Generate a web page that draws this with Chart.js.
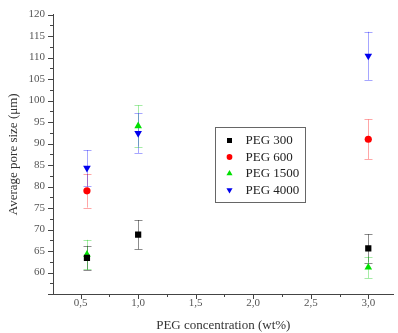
<!DOCTYPE html>
<html>
<head>
<meta charset="utf-8">
<script src="https://cdn.jsdelivr.net/npm/chart.js@4/dist/chart.umd.min.js"></script>
<style>
  html, body { margin: 0; padding: 0; background: #fff; }
  #wrap { width: 398px; height: 333px; position: relative; }
</style>
</head>
<body>
<div id="wrap"><canvas id="c"></canvas></div>
<script>
// data
const concX    = [0.555, 1.0, 3.0];
const seriesNames = ['PEG 300', 'PEG 600', 'PEG 1500', 'PEG 4000'];
const peg300   = [63.4, 68.8, 65.6];
const peg300E  = [2.8, 3.4, 3.3];
const peg600   = [79.0, null, 91.0];
const peg600E  = [3.9, null, 4.6];
const peg1500  = [64.2, 94.1, 61.2];
const peg1500E = [3.4, 4.8, 2.5];
const peg4000  = [84.3, 92.4, 110.4];
const peg4000E = [4.2, 4.6, 5.6];

const FONT = '"Liberation Serif", "DejaVu Serif", serif';

function pts(vals, errs) {
  const out = [];
  vals.forEach((v, i) => {
    if (v === null) return;
    out.push({ x: concX[i], y: v, e: errs[i] });
  });
  return out;
}

const confs = [
  { vals: peg300,  errs: peg300E,  color: '#000000', bar: 'rgba(0,0,0,0.45)',   style: 'rect',     r: 4.4, rot: 0 },
  { vals: peg600,  errs: peg600E,  color: '#ff0000', bar: 'rgba(255,0,0,0.35)', style: 'circle',   r: 3.6, rot: 0 },
  { vals: peg1500, errs: peg1500E, color: '#00e000', bar: 'rgba(0,200,0,0.35)', style: 'triangle', r: 4.4, rot: 0 },
  { vals: peg4000, errs: peg4000E, color: '#0000ee', bar: 'rgba(0,0,255,0.35)', style: 'triangle', r: 4.4, rot: 180 }
];

const datasets = confs.map((c, i) => ({
  label: seriesNames[i],
  data: pts(c.vals, c.errs),
  backgroundColor: c.color,
  borderColor: c.color,
  borderWidth: 0,
  pointStyle: c.style,
  pointRadius: c.r,
  pointRotation: c.rot,
  errColor: c.bar
}));

// error bars, drawn under the markers
const errorBars = {
  id: 'errorBars',
  beforeDatasetsDraw(chart) {
    const { ctx, scales: { x, y } } = chart;
    ctx.save();
    ctx.lineWidth = 1;
    chart.data.datasets.forEach(ds => {
      ctx.strokeStyle = ds.errColor;
      ds.data.forEach(p => {
        const px = Math.round(x.getPixelForValue(p.x)) + 0.5;
        const top = y.getPixelForValue(p.y + p.e);
        const bot = Math.min(y.getPixelForValue(p.y - p.e), chart.chartArea.bottom);
        ctx.beginPath();
        ctx.moveTo(px, top); ctx.lineTo(px, bot);
        ctx.moveTo(px - 4, Math.round(top) + 0.5); ctx.lineTo(px + 4, Math.round(top) + 0.5);
        if (bot < chart.chartArea.bottom) {
          ctx.moveTo(px - 4, Math.round(bot) + 0.5); ctx.lineTo(px + 4, Math.round(bot) + 0.5);
        }
        ctx.stroke();
      });
    });
    ctx.restore();
  }
};

// outward ticks, major with labels, minor halfway
const axisTicks = {
  id: 'axisTicks',
  afterDraw(chart) {
    const { ctx, scales: { x, y } } = chart;
    ctx.save();
    ctx.strokeStyle = '#444';
    ctx.lineWidth = 1;
    ctx.beginPath();
    for (let v = 0.25; v <= x.max + 1e-6; v += 0.25) {
      if (v < x.min - 1e-6) continue;
      const px = Math.round(x.getPixelForValue(v)) + 0.5;
      const major = Math.abs(v * 2 - Math.round(v * 2)) < 1e-6;
      ctx.moveTo(px, y.bottom);
      ctx.lineTo(px, y.bottom + (major ? 5 : 3));
    }
    for (let v = 55; v <= 120 + 1e-6; v += 2.5) {
      const py = Math.round(y.getPixelForValue(v)) + 0.5;
      const major = v % 5 === 0;
      ctx.moveTo(x.left, py);
      ctx.lineTo(x.left - (major ? 5 : 3), py);
    }
    ctx.stroke();
    ctx.restore();
  }
};

// boxed legend inside the plot
const boxLegend = {
  id: 'boxLegend',
  afterDraw(chart) {
    const { ctx } = chart;
    const bx = 215.5, by = 127.5, bw = 90, bh = 75;
    ctx.save();
    ctx.fillStyle = '#fff';
    ctx.fillRect(bx, by, bw, bh);
    ctx.strokeStyle = '#666';
    ctx.lineWidth = 1;
    ctx.strokeRect(bx, by, bw, bh);
    ctx.font = '13px ' + FONT;
    ctx.textBaseline = 'middle';
    chart.data.datasets.forEach((ds, i) => {
      const cy = by + 13 + i * 16.5;
      ctx.fillStyle = ds.backgroundColor;
      Chart.helpers.drawPoint(ctx, {
        pointStyle: ds.pointStyle,
        radius: ds.pointRadius * 0.8,
        rotation: ds.pointRotation,
        borderWidth: 0
      }, bx + 14, cy);
      ctx.fillStyle = '#222';
      ctx.fillText(seriesNames[i], bx + 30, cy + 0.5);
    });
    ctx.restore();
  }
};

new Chart(document.getElementById('c'), {
  type: 'scatter',
  data: { datasets },
  plugins: [errorBars, axisTicks, boxLegend],
  options: {
    responsive: true,
    maintainAspectRatio: false,
    animation: false,
    layout: { padding: { top: 12, right: 0, left: 0, bottom: 0 } },
    plugins: { legend: { display: false }, tooltip: { enabled: false } },
    scales: {
      x: {
        type: 'linear',
        min: 0.26,
        max: 3.22,
        afterFit: s => { s.height = 39; },
        afterBuildTicks: s => {
          s.ticks = [0.5, 1.0, 1.5, 2.0, 2.5, 3.0].map(v => ({ value: v }));
        },
        grid: { display: false, drawTicks: false },
        border: { display: true, color: '#444', width: 1 },
        ticks: {
          padding: 3,
          color: '#555',
          font: { family: FONT, size: 11 },
          maxRotation: 0,
          callback: v => v.toFixed(1).replace('.', ',')
        },
        title: {
          display: true,
          text: 'PEG concentration (wt%)',
          color: '#333',
          font: { family: FONT, size: 13 },
          padding: { top: 2, bottom: 0 }
        }
      },
      y: {
        type: 'linear',
        min: 55,
        max: 120,
        afterFit: s => { s.width = 53; },
        afterBuildTicks: s => {
          const t = [];
          for (let v = 60; v <= 120; v += 5) t.push({ value: v });
          s.ticks = t;
        },
        grid: { display: false, drawTicks: false },
        border: { display: true, color: '#444', width: 1 },
        ticks: {
          padding: 8,
          color: '#555',
          font: { family: FONT, size: 11 },
          callback: v => String(v)
        },
        title: {
          display: true,
          text: 'Average pore size (\u03bcm)',
          color: '#333',
          font: { family: FONT, size: 13 },
          padding: { top: 6, bottom: 6 }
        }
      }
    }
  }
});
</script>
</body>
</html>
